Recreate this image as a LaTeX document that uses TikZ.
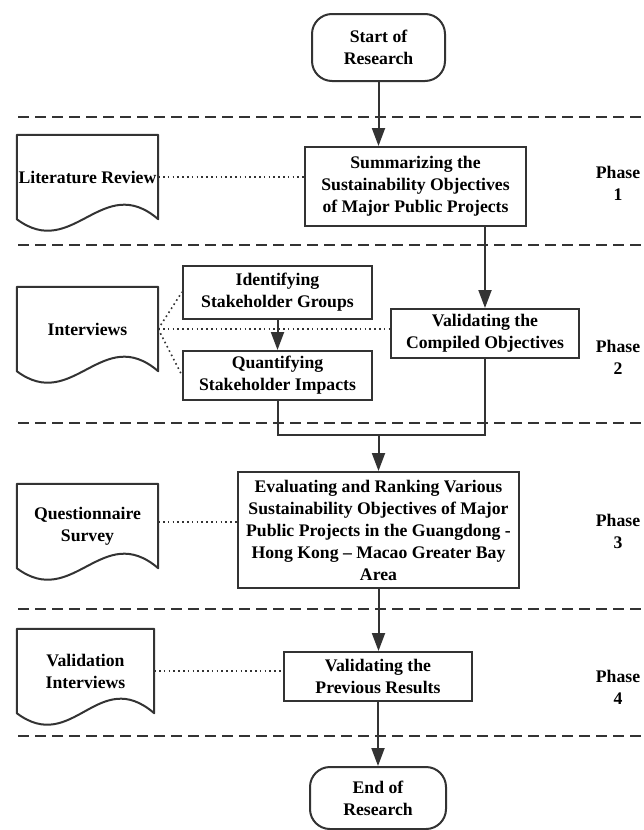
\documentclass[tikz,border=0pt]{standalone}
\usepackage{fontspec}
\setmainfont{Liberation Serif}
\usetikzlibrary{arrows.meta,positioning}
\definecolor{linegray}{HTML}{333333}
\tikzstyle{block} = [rectangle, draw=linegray, line width=2pt, fill=white,
    align=center, inner sep=2pt]
\tikzstyle{terminal} = [block, rounded corners=20pt, minimum width=133pt, minimum height=67pt]
\tikzstyle{doc} = [rectangle, align=center, inner sep=0pt, minimum width=141pt, minimum height=84pt]
\tikzstyle{line} = [draw=linegray, line width=2pt, -{Triangle[length=18pt,width=13pt]}]
\tikzstyle{link} = [draw=linegray, line width=2pt]
\tikzstyle{dots} = [draw=linegray, line width=1.6pt, dash pattern=on 1.6pt off 3.2pt]
\tikzstyle{divider} = [draw=linegray, line width=2.5pt, dash pattern=on 11pt off 6pt]
\tikzstyle{phase} = [align=center]
% outline of a document symbol round a doc node
\newcommand{\docshape}[1]{\draw[link, line join=round] (#1.south west) -- (#1.north west)
    -- (#1.north east) -- (#1.south east) .. controls +(-56,-48) and +(56,42) .. (#1.south west) -- cycle;}

\begin{document}
\begin{tikzpicture}[x=1pt, y=-1pt,
    every node/.style={font=\fontsize{17.7}{22}\selectfont\bfseries}]
		\useasboundingbox (0,0) rectangle (643,830);
		% Phase dividers
		\foreach \y in {117,245,423,609,736}
			\draw[divider] (18,\y) -- (643,\y);
		% Draw nodes
		\node [terminal] (start) at (378.5,47.5) {Start of\\Research};
		\node [block, minimum width=221pt, minimum height=79pt] (summ) at (415.5,186.5)
			{Summarizing the\\Sustainability Objectives\\of Major Public Projects};
		\node [block, minimum width=189pt, minimum height=53pt] (ident) at (277.5,292)
			{Identifying\\Stakeholder Groups};
		\node [block, minimum width=189pt, minimum height=49pt] (quant) at (277.5,375.5)
			{Quantifying\\Stakeholder Impacts};
		\node [block, minimum width=188pt, minimum height=49pt] (valid) at (485,333.5)
			{Validating the\\Compiled Objectives};
		\node [block, minimum width=281pt, minimum height=116pt] (eval) at (378.5,530)
			{Evaluating and Ranking Various\\Sustainability Objectives of Major\\Public Projects in the Guangdong -\\Hong Kong -- Macao Greater Bay\\Area};
		\node [block, minimum width=188pt, minimum height=49pt] (prev) at (378,676.5)
			{Validating the\\Previous Results};
		\node [terminal, minimum width=136pt, minimum height=62pt] (endn) at (378,798) {End of\\Research};
		% Documents
		\node [doc] (lit) at (87.5,177) {Literature Review};
		\node [doc] (intv) at (87.5,329) {Interviews};
		\node [doc] (quest) at (87.5,526) {Questionnaire\\Survey};
		\node [doc, minimum width=137pt] (valint) at (85.5,671) {Validation\\Interviews};
		\docshape{lit}
		\docshape{intv}
		\docshape{quest}
		\docshape{valint}
		% Phase labels
		\node [phase] (ph1) at (618,183) {Phase\\1};
		\node [phase] (ph2) at (618,357) {Phase\\2};
		\node [phase] (ph3) at (618,531) {Phase\\3};
		\node [phase] (ph4) at (618,687) {Phase\\4};
		% Helper coordinates
		\coordinate (join) at (378.5,435);
		% Draw lines connecting (arrows)
		\path [line] (start.south) -- (start.south |- summ.north);
		\path [line] (summ.south -| valid.north) -- (valid.north);
		\path [line] (ident.south) -- (quant.north);
		\path [link] (quant.south) |- (join) -| (valid.south);
		\path [line] (join) -- (eval.north);
		\path [line] (eval.south) -- (eval.south |- prev.north);
		\path [line] (prev.south) -- (endn.north);
		% Dotted links to the methods
		\path [dots] (lit.east) -- (lit.east -| summ.west);
		\path [dots] (intv.east) -- (ident.west);
		\path [dots] (intv.east) -- (quant.west);
		\path [dots] (intv.east) -- (intv.east -| valid.west);
		\path [dots] ([yshift=4pt]quest.east) -- ([yshift=4pt]quest.east -| eval.west);
		\path [dots] (valint.east) -- (valint.east -| prev.west);
	\end{tikzpicture}
\end{document}
